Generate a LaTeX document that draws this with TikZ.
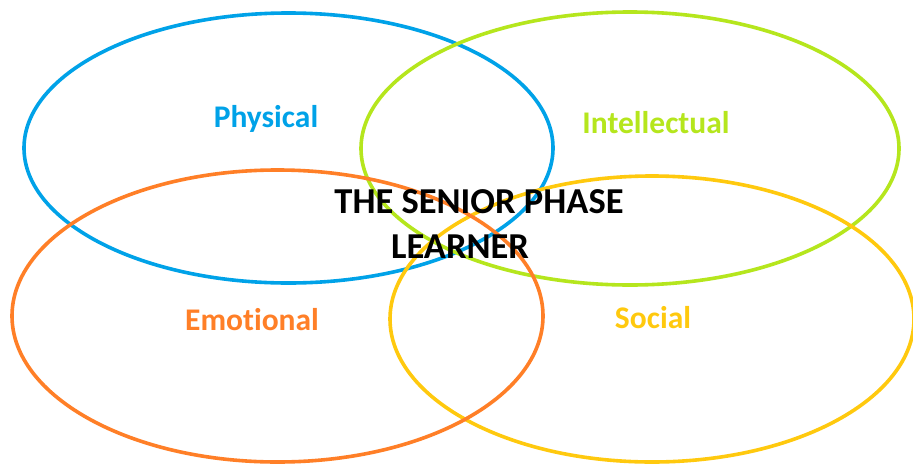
\documentclass[tikz,border=0pt]{standalone}
\usepackage{fontspec}
\setmainfont{Carlito}[Ligatures=NoCommon]
\definecolor{cblue}{RGB}{0,162,232}
\definecolor{cgreen}{RGB}{181,230,29}
\definecolor{corange}{RGB}{255,127,39}
\definecolor{cgold}{RGB}{255,201,14}
\begin{document}
\begin{tikzpicture}[x=1pt,y=-1pt,
  ring/.style={line width=3.6pt},
  lbl/.style={font=\fontsize{31.5}{36}\selectfont\bfseries, anchor=base, inner sep=0pt},
  ttl/.style={font=\fontsize{36.5}{45}\selectfont\bfseries, anchor=base, inner sep=0pt, text=black}]
\useasboundingbox[fill=white] (0,0) rectangle (913,464);
\draw[ring, cblue] (288.5,148) ellipse [x radius=264.5, y radius=135];
\draw[ring, cgreen] (630,148.5) ellipse [x radius=269, y radius=136.5];
\draw[ring, cgold] (652,319) ellipse [x radius=262, y radius=143];
\draw[ring, corange] (277.5,316) ellipse [x radius=265.5, y radius=146];
\node[lbl, text=cblue] (phys) at (266,127) {Physical};
\node[lbl, text=cgreen] (intel) at (656,133) {Intellectual};
\node[lbl, text=corange] (emo) at (252,330) {Emotional};
\node[lbl, text=cgold] (soc) at (653,328) {Social};
\node[ttl] (t1) at (479,213) {THE SENIOR PHASE};
\node[ttl] (t2) at (460,258) {LEARNER};
\end{tikzpicture}
\end{document}
